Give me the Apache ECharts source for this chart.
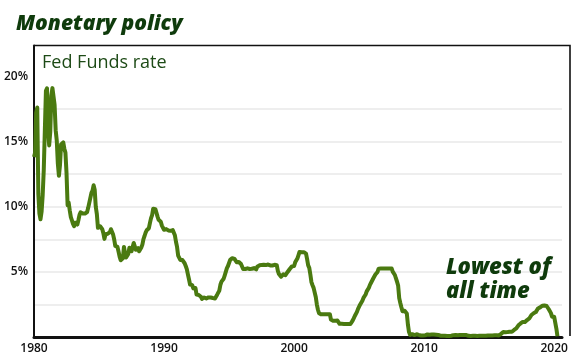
<!DOCTYPE html>
<html>
<head>
<meta charset="utf-8">
<script src="https://cdn.jsdelivr.net/npm/echarts@6/dist/echarts.min.js"></script>
<style>
html,body{margin:0;padding:0;background:#fff;}
#chart{width:576px;height:362px;}
</style>
</head>
<body>
<div id="chart"></div>
<script>
// Monthly effective Fed Funds rate (%), starting January 1980
var startYear = 1980;
var rates1980s = [
  13.82,14.13,17.19,17.61,10.98,9.47,9.03,9.61,10.87,12.81,15.85,18.90,
  19.08,15.93,14.70,15.72,18.52,19.10,19.04,17.82,15.87,15.08,13.31,12.37,
  13.22,14.78,14.68,14.94,14.45,14.15,12.59,10.12,10.31,9.71,9.20,8.95,
  8.68,8.51,8.77,8.80,8.63,8.98,9.37,9.56,9.45,9.48,9.34,9.47,
  9.56,9.59,9.91,10.29,10.32,11.06,11.23,11.64,11.30,9.99,9.43,8.38,
  8.35,8.50,8.58,8.27,7.97,7.53,7.88,7.90,7.92,7.99,8.05,8.27,
  8.14,7.86,7.48,6.99,6.85,6.92,6.56,6.17,5.89,5.85,6.04,6.91,
  6.43,6.10,6.13,6.37,6.85,6.73,6.58,6.73,7.22,7.29,6.69,6.77,
  6.83,6.58,6.58,6.87,7.09,7.51,7.75,8.01,8.19,8.30,8.35,8.76,
  9.12,9.36,9.85,9.84,9.81,9.53,9.24,8.99,9.02,8.84,8.55,8.45
];
var rates1990s = [
  8.23,8.24,8.28,8.26,8.18,8.29,8.15,8.13,8.20,8.11,7.81,7.31,
  6.91,6.25,6.12,5.91,5.78,5.90,5.82,5.66,5.45,5.21,4.81,4.43,
  4.03,4.06,3.98,3.73,3.82,3.76,3.25,3.30,3.22,3.10,3.09,2.92,
  3.02,3.03,3.07,2.96,3.00,3.04,3.06,3.03,3.09,2.99,3.02,2.96,
  3.05,3.25,3.34,3.56,4.01,4.25,4.26,4.47,4.73,4.76,5.29,5.45,
  5.53,5.92,5.98,6.05,6.01,6.00,5.85,5.74,5.80,5.76,5.80,5.60,
  5.56,5.22,5.31,5.22,5.24,5.27,5.40,5.22,5.30,5.24,5.31,5.29,
  5.25,5.19,5.39,5.51,5.50,5.56,5.52,5.54,5.54,5.50,5.52,5.50,
  5.56,5.51,5.49,5.45,5.49,5.56,5.54,5.55,5.51,5.07,4.83,4.68,
  4.63,4.76,4.81,4.74,4.74,4.76,4.99,5.07,5.22,5.20,5.42,5.30
];
var rates2000s = [
  5.45,5.73,5.85,6.02,6.27,6.53,6.54,6.50,6.52,6.51,6.51,6.40,
  5.98,5.49,5.31,4.80,4.21,3.97,3.77,3.65,3.07,2.49,2.09,1.82,
  1.73,1.74,1.73,1.75,1.75,1.75,1.73,1.74,1.75,1.75,1.34,1.24,
  1.24,1.26,1.25,1.26,1.26,1.22,1.01,1.03,1.01,1.01,1.00,0.98,
  1.00,1.01,1.00,1.00,1.00,1.03,1.26,1.43,1.61,1.76,1.93,2.16,
  2.28,2.50,2.63,2.79,3.00,3.04,3.26,3.50,3.62,3.78,4.00,4.16,
  4.29,4.49,4.59,4.79,4.94,4.99,5.24,5.25,5.25,5.25,5.25,5.24,
  5.25,5.26,5.26,5.25,5.25,5.25,5.26,5.02,4.94,4.76,4.49,4.24,
  3.94,2.98,2.61,2.28,1.98,2.00,2.01,2.00,1.81,0.97,0.39,0.16,
  0.15,0.22,0.18,0.15,0.18,0.21,0.16,0.16,0.15,0.12,0.12,0.12
];
var rates2010s = [
  0.11,0.13,0.16,0.20,0.20,0.18,0.18,0.19,0.19,0.19,0.19,0.18,
  0.17,0.16,0.14,0.10,0.09,0.09,0.07,0.10,0.08,0.07,0.08,0.07,
  0.08,0.10,0.13,0.14,0.16,0.16,0.16,0.13,0.14,0.16,0.16,0.16,
  0.14,0.15,0.14,0.15,0.11,0.09,0.09,0.08,0.08,0.09,0.08,0.09,
  0.07,0.07,0.08,0.09,0.09,0.10,0.09,0.09,0.09,0.09,0.09,0.12,
  0.11,0.11,0.11,0.12,0.12,0.13,0.13,0.14,0.14,0.12,0.12,0.24,
  0.34,0.38,0.36,0.37,0.37,0.38,0.39,0.40,0.40,0.40,0.41,0.54,
  0.65,0.66,0.79,0.90,0.91,1.04,1.15,1.16,1.15,1.15,1.16,1.30,
  1.41,1.42,1.51,1.69,1.70,1.82,1.91,1.91,1.95,2.19,2.20,2.27,
  2.40,2.40,2.41,2.42,2.39,2.38,2.40,2.13,2.04,1.83,1.55,1.55
];
var rates2020s = [1.55,1.58,0.65,0.05];

var xTickYears = [1980, 1990, 2000, 2010, 2020];
var yTickLabels = ['5%', '10%', '15%', '20%'];

var allRates = [].concat(rates1980s, rates1990s, rates2000s, rates2010s, rates2020s);
var seriesData = allRates.map(function (v, i) { return [startYear + i / 12, v]; });

var GREEN_TEXT = '#0f3b0c';
var chart = echarts.init(document.getElementById('chart'));
var grey = '#e9e9e9';
chart.setOption({
  backgroundColor: '#ffffff',
  animation: false,
  title: {
    text: 'Monetary policy',
    left: 11, top: 9,
    textStyle: { fontFamily: 'Open Sans', fontSize: 21, fontWeight: 800, fontStyle: 'italic', color: GREEN_TEXT }
  },
  grid: { left: 34, right: 14, top: 45.5, bottom: 25, containLabel: false },
  xAxis: {
    type: 'value', min: 1980, max: 2020.6, interval: 10,
    axisLine: { show: true, onZero: false, lineStyle: { color: '#111', width: 3 } },
    axisTick: { show: false },
    splitLine: { show: false },
    axisLabel: {
      margin: 6, color: '#111', fontFamily: 'Open Sans', fontWeight: 600, fontSize: 12,
      showMaxLabel: false,
      formatter: function (v) { return xTickYears.indexOf(v) >= 0 ? String(v) : ''; }
    }
  },
  yAxis: {
    type: 'value', min: 0, max: 22.37, interval: 2.5,
    axisLine: { show: true, lineStyle: { color: '#111', width: 2 } },
    axisTick: { show: false },
    splitLine: {
      show: true, showMaxLine: false,
      lineStyle: { color: ['transparent', grey, grey, grey, grey, grey, grey, grey, 'transparent'], width: 1.5 }
    },
    axisLabel: {
      margin: 6, color: '#111', fontFamily: 'Open Sans', fontWeight: 600, fontSize: 12,
      formatter: function (v) {
        var idx = Math.round(v / 5) - 1;
        return (Math.abs(v / 5 - Math.round(v / 5)) < 1e-6 && idx >= 0 && idx < yTickLabels.length) ? yTickLabels[idx] : '';
      }
    }
  },
  graphic: [
    { type: 'polyline', shape: { points: [[34, 45.5], [570, 45.5], [570, 336]] },
      style: { stroke: '#111', lineWidth: 1.6, fill: null }, z: 10 },
    { type: 'text', left: 42, top: 54,
      style: { text: 'Fed Funds rate', fontFamily: 'Open Sans', fontSize: 18, fill: '#1d4a16' }, z: 10 },
    { type: 'text', left: 446, top: 256,
      style: { text: 'Lowest of\nall time', fontFamily: 'Open Sans', fontSize: 22, fontWeight: 800, fontStyle: 'italic', lineHeight: 24, fill: GREEN_TEXT }, z: 10 }
  ],
  series: [{
    type: 'line', data: seriesData, showSymbol: false,
    lineStyle: { color: '#4a7a10', width: 4, join: 'round' },
    clip: false
  }]
});
</script>
</body>
</html>
